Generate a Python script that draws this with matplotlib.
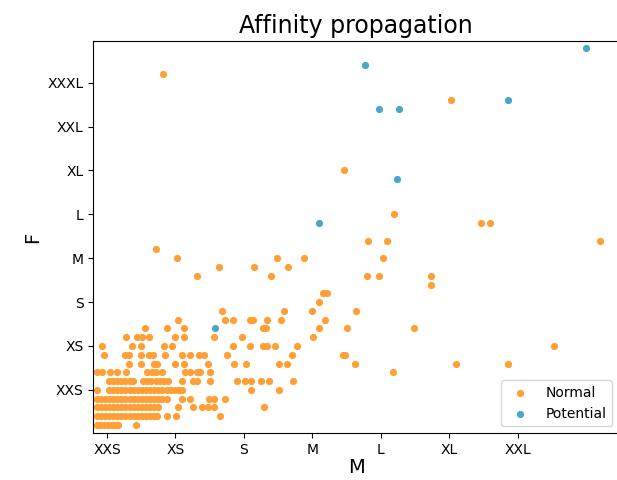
import matplotlib
matplotlib.use("Agg")
import matplotlib.pyplot as plt

# size classes on both axes
x_labels = ["XXS", "XS", "S", "M", "L", "XL", "XXL"]
y_labels = ["XXS", "XS", "S", "M", "L", "XL", "XXL", "XXXL"]

# "Normal" points, grouped by their F level
normal_levels = [-0.8, -0.6, -0.4, -0.2, 0.0, 0.2, 0.4, 0.6, 0.8, 1.0, 1.2, 1.4,
                 1.6, 1.8, 2.0, 2.2, 2.4, 2.6, 2.8, 3.0, 3.2, 3.4, 3.8, 4.0,
                 5.0, 6.6, 7.2]
normal_m = [
    [-0.15, -0.10, -0.04, 0.02, 0.08, 0.12, 0.16, 0.42],
    [-0.15, -0.09, -0.03, 0.03, 0.09, 0.15, 0.21, 0.27, 0.33, 0.39, 0.45, 0.51,
     0.57, 0.63, 0.69, 0.73, 0.88, 1.01, 1.65],
    [-0.15, -0.09, -0.03, 0.03, 0.09, 0.15, 0.21, 0.27, 0.33, 0.39, 0.45, 0.51,
     0.57, 0.63, 0.69, 0.75, 1.04, 1.26, 1.39, 1.48, 1.56, 2.29],
    [-0.15, -0.09, -0.03, 0.03, 0.09, 0.15, 0.21, 0.27, 0.33, 0.39, 0.45, 0.51,
     0.57, 0.63, 0.69, 0.75, 0.81, 0.87, 1.09, 1.22, 1.49, 1.56, 1.73],
    [-0.14, 0.03, 0.09, 0.15, 0.21, 0.27, 0.33, 0.39, 0.45, 0.51, 0.57, 0.63,
     0.69, 0.75, 0.81, 0.87, 0.93, 0.99, 1.05, 1.09, 2.11, 2.51],
    [0.03, 0.09, 0.15, 0.21, 0.27, 0.33, 0.38, 0.53, 0.59, 0.65, 0.71, 0.77,
     0.83, 0.89, 1.09, 1.26, 1.32, 1.51, 1.90, 2.02, 2.11, 2.25, 2.37, 2.72],
    [-0.15, -0.08, 0.05, 0.15, 0.28, 0.59, 0.66, 0.72, 0.80, 1.14, 1.22, 1.31,
     1.36, 1.51, 4.18],
    [0.32, 0.49, 0.68, 0.73, 1.00, 1.12, 1.48, 1.85, 2.03, 2.51, 2.63, 3.62,
     5.10, 5.86],
    [-0.04, 0.26, 0.32, 0.49, 0.61, 0.67, 0.85, 1.09, 1.21, 1.34, 1.42, 1.76,
     2.71, 3.45, 3.48],
    [-0.07, 0.36, 0.49, 0.84, 0.95, 1.84, 2.09, 2.28, 2.34, 2.46, 2.78, 6.53],
    [0.28, 0.44, 0.51, 0.61, 0.99, 1.12, 1.56, 1.97, 3.01],
    [0.56, 0.88, 1.12, 2.28, 2.33, 3.10, 3.50, 4.48],
    [1.04, 1.73, 1.84, 2.09, 2.13, 2.34, 2.54, 3.18],
    [1.68, 2.59, 2.99, 3.64],
    [3.10],
    [3.16, 3.22],
    [4.74],
    [1.31, 2.39, 3.80, 3.98, 4.74],
    [1.64, 2.15, 2.64],
    [1.03, 2.48, 2.88, 4.03],
    [0.72],
    [3.82, 4.09, 7.21],
    [5.46, 5.59],
    [4.20],
    [3.46],
    [5.02],
    [0.82],
]

# "Potential" points
potential_m = [1.58, 3.10, 4.23, 3.97, 4.27, 5.86, 3.77, 7.00]
potential_f = [1.4, 3.8, 4.8, 6.4, 6.4, 6.6, 7.4, 7.8]

normal_x = [m for row in normal_m for m in row]
normal_y = [lvl for lvl, row in zip(normal_levels, normal_m) for _ in row]

fig = plt.figure(figsize=(6.17, 4.80), dpi=100)
ax = fig.add_axes([0.1512, 0.0973, 0.852, 0.8173])

ax.scatter(normal_x, normal_y, s=27, color="#ff9f36", linewidths=0,
           label="Normal", zorder=2)
ax.scatter(potential_m, potential_f, s=27, color="#4aa8c7", linewidths=0,
           label="Potential", zorder=3)

ax.set_xlim(-0.2, 7.48)
ax.set_ylim(-0.99, 7.95)
ax.set_xticks(range(len(x_labels)))
ax.set_xticklabels(x_labels)
ax.set_yticks(range(len(y_labels)))
ax.set_yticklabels(y_labels)

ax.set_xlabel("M", fontsize=14, labelpad=1)
ax.set_ylabel("F", fontsize=14)
ax.set_title("Affinity propagation", fontsize=17)
ax.legend(loc="lower right")

fig.savefig("out.png", dpi=100)
